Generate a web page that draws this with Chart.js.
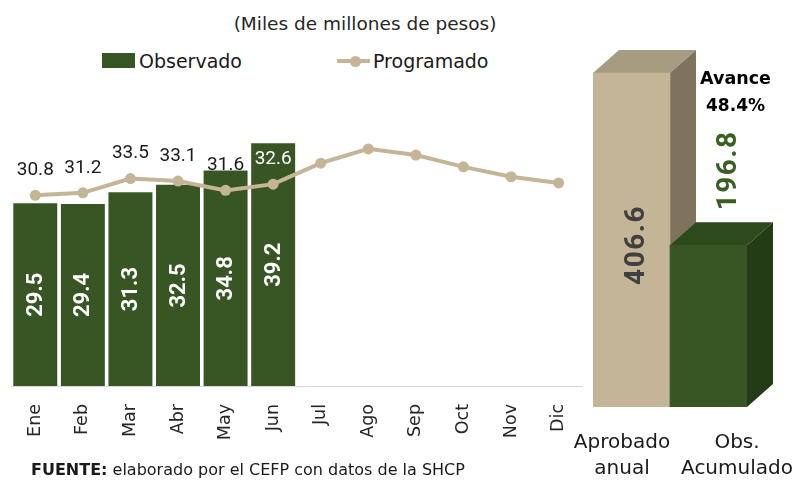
<!DOCTYPE html>
<html><head><meta charset="utf-8">
<script src="https://cdn.jsdelivr.net/npm/chart.js@4.4.1/dist/chart.umd.min.js"></script>
<style>
html,body{margin:0;padding:0;background:#fff;}
body{width:798px;height:483px;position:relative;overflow:hidden;font-family:"DejaVu Sans",sans-serif;color:#1a1a1a;}
canvas{position:absolute;top:0;}
#left{left:0;}
#right{left:560px;}
.title{position:absolute;left:365px;top:23px;transform:translate(-50%,-50%);font-size:18.5px;white-space:nowrap;color:#262626;}
.leg{position:absolute;top:61px;transform:translateY(-50%);font-size:19px;white-space:nowrap;color:#1a1a1a;}
.box{position:absolute;left:102px;top:53px;width:33px;height:15px;background:#375623;}
.lline{position:absolute;left:337px;top:59px;width:33px;height:4px;background:#C4B596;}
.ldot{position:absolute;left:350px;top:56px;width:11px;height:11px;border-radius:50%;background:#C4B596;}
.foot{position:absolute;left:31px;top:469px;transform:translateY(-50%);font-size:16px;white-space:nowrap;color:#1a1a1a;}
</style>
</head><body>
<div class="title">(Miles de millones de pesos)</div>
<div class="box"></div><div class="leg" style="left:139px">Observado</div>
<div class="lline"></div><div class="ldot"></div><div class="leg" style="left:373px">Programado</div>
<canvas id="left" width="592" height="483"></canvas>
<canvas id="right" width="238" height="483"></canvas>
<div class="foot"><b>FUENTE:</b> elaborado por el CEFP con datos de la SHCP</div>
<script>
// ---- data ----
const months = ["Ene","Feb","Mar","Abr","May","Jun","Jul","Ago","Sep","Oct","Nov","Dic"];
const observado = [29.5, 29.4, 31.3, 32.5, 34.8, 39.2, null, null, null, null, null, null];
const programado = [30.8, 31.2, 33.5, 33.1, 31.6, 32.6, 36.0, 38.3, 37.3, 35.4, 33.8, 32.8];
const programadoLabelCount = 6;
const totalCategories = [["Aprobado","anual"],["Obs.","Acumulado"]];
const totals = [406.6, 196.8];

Chart.defaults.animation = false;

const leftLabels = {
  id: 'leftLabels',
  afterDatasetsDraw(chart) {
    const ctx = chart.ctx;
    ctx.save();
    const bars = chart.getDatasetMeta(0).data;
    ctx.fillStyle = '#ffffff';
    ctx.font = 'bold 22px Roboto';
    ctx.textAlign = 'center';
    ctx.textBaseline = 'middle';
    bars.forEach((b, i) => {
      const v = observado[i];
      if (v == null) return;
      ctx.save();
      ctx.translate(b.x + 1, (b.y + b.base) / 2);
      ctx.rotate(-Math.PI / 2);
      ctx.fillText(v.toFixed(1), 0, 0);
      ctx.restore();
    });
    const pts = chart.getDatasetMeta(1).data;
    ctx.font = '19px Roboto';
    pts.forEach((p, i) => {
      if (i >= programadoLabelCount) return;
      const v = programado[i];
      const ob = observado[i];
      const y = p.y - 25;
      const inside = ob != null && chart.scales.y.getPixelForValue(ob) < y - 9;
      ctx.fillStyle = inside ? '#ffffff' : '#1a1a1a';
      ctx.fillText(v.toFixed(1), p.x, y);
    });
    ctx.restore();
  }
};

new Chart(document.getElementById('left'), {
  data: {
    labels: months,
    datasets: [
      { type: 'bar', label: 'Observado', data: observado, backgroundColor: '#375623',
        barPercentage: 0.924, categoryPercentage: 1.0, order: 1 },
      { type: 'line', label: 'Programado', data: programado, borderColor: '#C4B596',
        backgroundColor: '#C4B596', borderWidth: 4, pointRadius: 5.5, pointBorderWidth: 0,
        pointBackgroundColor: '#C4B596', tension: 0, order: 0 }
    ]
  },
  options: {
    responsive: false,
    layout: { padding: { left: 11.5, right: 9.6, top: 45.5, bottom: 0 } },
    plugins: { legend: { display: false }, tooltip: { enabled: false } },
    scales: {
      x: {
        grid: { display: false, drawTicks: false },
        border: { display: true, color: '#D9D9D9', width: 1 },
        ticks: { minRotation: 90, maxRotation: 90, autoSkip: false, padding: 18,
          font: { family: 'DejaVu Sans', size: 17.5 }, color: '#262626' },
        afterFit: s => { s.height = 97; s.paddingLeft = 0; s.paddingRight = 0; }
      },
      y: { display: false, min: 0, max: 55 }
    }
  },
  plugins: [leftLabels]
});

// ---- right 3D bars ----
const DX = 26, DY = -23;
const tops = ['#A59C82', '#2D4A1C'];
const sides = ['#7E745E', '#243C16'];
function poly(ctx, pts, color) {
  ctx.beginPath();
  ctx.moveTo(pts[0][0], pts[0][1]);
  for (let k = 1; k < pts.length; k++) ctx.lineTo(pts[k][0], pts[k][1]);
  ctx.closePath();
  ctx.fillStyle = color;
  ctx.fill();
}
const threeD = {
  id: 'threeD',
  beforeDatasetsDraw(chart) {
    const ctx = chart.ctx;
    ctx.save();
    chart.getDatasetMeta(0).data.forEach((b, i) => {
      const l = b.x - b.width / 2, r = b.x + b.width / 2;
      poly(ctx, [[l, b.y], [l + DX, b.y + DY], [r + DX, b.y + DY], [r, b.y]], tops[i]);
      poly(ctx, [[r, b.y], [r + DX, b.y + DY], [r + DX, b.base + DY], [r, b.base]], sides[i]);
    });
    ctx.restore();
  },
  afterDraw(chart) {
    const ctx = chart.ctx;
    const bars = chart.getDatasetMeta(0).data;
    ctx.save();
    ctx.textAlign = 'center';
    ctx.textBaseline = 'middle';
    const a = bars[0];
    ctx.save();
    ctx.translate(a.x + 5, (a.y + a.base) / 2 + 5);
    ctx.rotate(-Math.PI / 2);
    ctx.font = 'bold 28px Roboto';
    ctx.letterSpacing = '1.5px';
    ctx.fillStyle = '#404040';
    ctx.fillText(totals[0].toFixed(1), 0, 0);
    ctx.restore();
    const o = bars[1];
    ctx.save();
    ctx.translate(o.x + 20, o.y - 75);
    ctx.rotate(-Math.PI / 2);
    ctx.font = 'bold 28px Roboto';
    ctx.letterSpacing = '1.5px';
    ctx.fillStyle = '#3A5F22';
    ctx.fillText(totals[1].toFixed(1), 0, 0);
    ctx.restore();
    ctx.fillStyle = '#000000';
    ctx.font = 'bold 17.5px "DejaVu Sans"';
    ctx.fillText('Avance', o.x + 27, o.y - 166);
    ctx.font = 'bold 17px "DejaVu Sans"';
    ctx.fillText((totals[1] / totals[0] * 100).toFixed(1) + '%', o.x + 27, o.y - 139);
    ctx.fillStyle = '#1a1a1a';
    ctx.font = '20px "DejaVu Sans"';
    const offs = [-9.5, 28.5];
    const xs = chart.scales.x;
    totalCategories.forEach((lines, i) => {
      const cx = xs.getPixelForValue(i) + offs[i];
      lines.forEach((t, j) => ctx.fillText(t, cx, 443 + j * 26));
    });
    ctx.restore();
  }
};

new Chart(document.getElementById('right'), {
  type: 'bar',
  data: {
    labels: totalCategories,
    datasets: [{ label: 'Total', data: totals, backgroundColor: ['#C4B596', '#375623'],
      barPercentage: 1, categoryPercentage: 1 }]
  },
  options: {
    responsive: false,
    layout: { padding: { left: 33, right: 51, top: 37.3, bottom: 76 } },
    plugins: { legend: { display: false }, tooltip: { enabled: false } },
    scales: {
      x: { display: false },
      y: { display: false, min: 0, max: 450 }
    }
  },
  plugins: [threeD]
});
</script>
</body></html>
